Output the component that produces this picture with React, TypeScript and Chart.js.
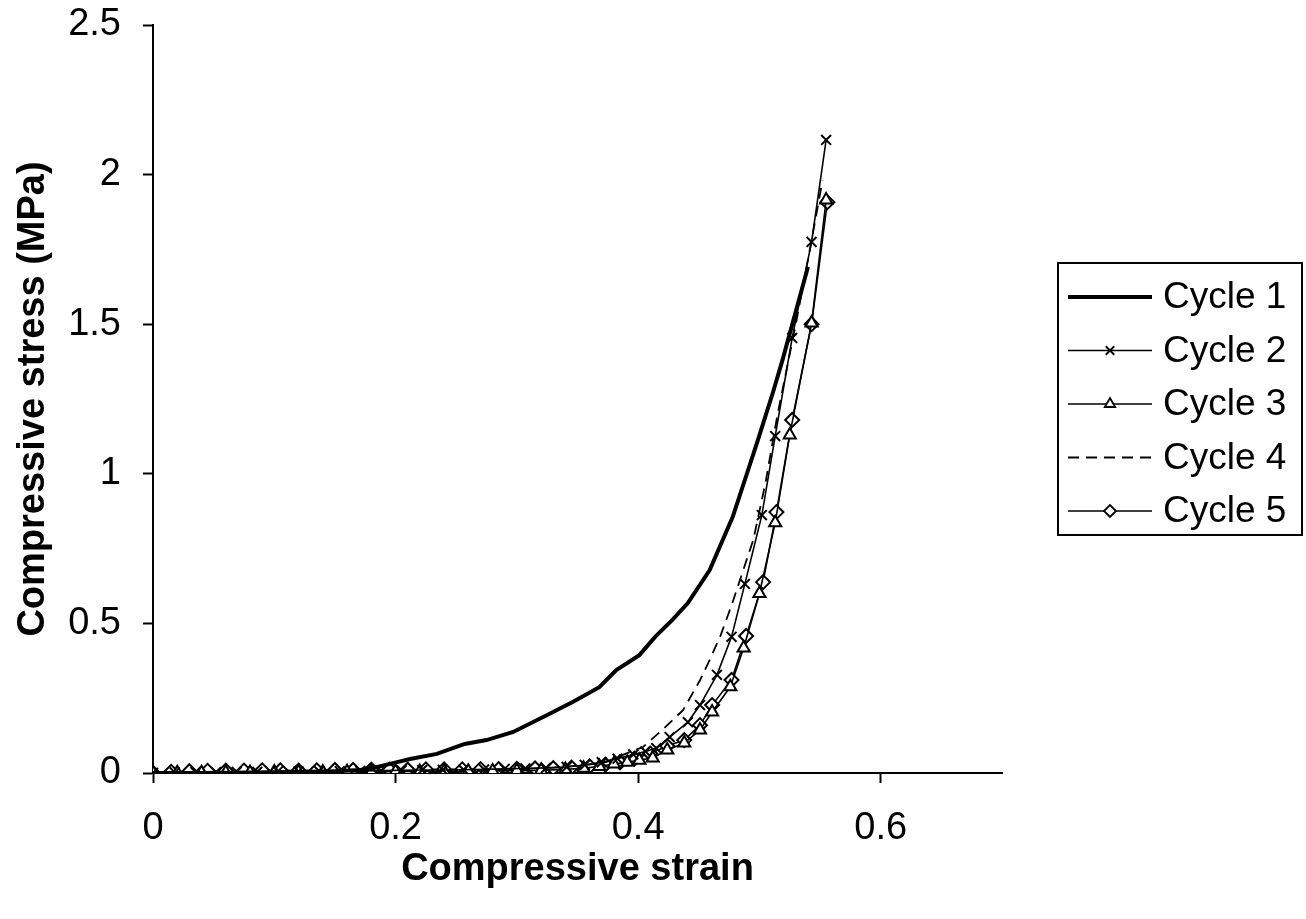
import React, { useEffect, useRef } from "react";
import { Chart, registerables } from "chart.js";
import { drawPoint } from "chart.js/helpers";

Chart.register(...registerables);

const X_TITLE = "Compressive strain";
const Y_TITLE = "Compressive stress (MPa)";
const X_TICKS = [0, 0.2, 0.4, 0.6];
const Y_TICKS = [0, 0.5, 1, 1.5, 2, 2.5];
const SERIES_NAMES = ["Cycle 1", "Cycle 2", "Cycle 3", "Cycle 4", "Cycle 5"];

const strain1 = [0, 0.039, 0.08, 0.121, 0.15, 0.171, 0.185, 0.198, 0.212, 0.234, 0.257, 0.275, 0.297, 0.325, 0.346, 0.368, 0.382, 0.401, 0.414, 0.428, 0.441, 0.459, 0.478, 0.498, 0.511, 0.519, 0.54];
const stress1 = [0, 0, 0.002, 0.003, 0.006, 0.01, 0.02, 0.033, 0.047, 0.064, 0.097, 0.11, 0.137, 0.194, 0.237, 0.287, 0.344, 0.394, 0.455, 0.511, 0.568, 0.678, 0.856, 1.103, 1.27, 1.38, 1.691];

const strain2 = [0, 0.018, 0.035, 0.052, 0.069, 0.086, 0.103, 0.12, 0.137, 0.154, 0.171, 0.188, 0.205, 0.222, 0.239, 0.256, 0.273, 0.29, 0.307, 0.324, 0.341, 0.356, 0.37, 0.383, 0.396, 0.406, 0.415, 0.426, 0.441, 0.451, 0.465, 0.477, 0.488, 0.502, 0.513, 0.527, 0.543, 0.555];
const stress2 = [0, 0.002, 0.003, 0.003, 0.004, 0.004, 0.005, 0.005, 0.006, 0.006, 0.007, 0.008, 0.009, 0.01, 0.01, 0.011, 0.012, 0.014, 0.015, 0.017, 0.02, 0.027, 0.036, 0.048, 0.062, 0.072, 0.083, 0.12, 0.17, 0.227, 0.328, 0.455, 0.632, 0.862, 1.126, 1.454, 1.775, 2.116];

const strain3 = [0, 0.02, 0.04, 0.06, 0.08, 0.1, 0.12, 0.14, 0.16, 0.18, 0.2, 0.22, 0.24, 0.26, 0.28, 0.3, 0.32, 0.34, 0.355, 0.368, 0.38, 0.391, 0.401, 0.412, 0.424, 0.438, 0.451, 0.461, 0.476, 0.487, 0.5, 0.513, 0.525, 0.543, 0.555];
const stress3 = [0, 0.001, 0.001, 0.002, 0.002, 0.003, 0.003, 0.003, 0.004, 0.004, 0.005, 0.005, 0.006, 0.006, 0.007, 0.008, 0.009, 0.012, 0.016, 0.022, 0.03, 0.036, 0.043, 0.05, 0.077, 0.1, 0.144, 0.204, 0.288, 0.418, 0.6, 0.836, 1.13, 1.504, 1.915];

const strain4 = [0, 0.05, 0.1, 0.15, 0.2, 0.25, 0.3, 0.33, 0.355, 0.374, 0.387, 0.404, 0.42, 0.437, 0.451, 0.459, 0.468, 0.477, 0.486, 0.495, 0.505, 0.515, 0.53, 0.543, 0.552];
const stress4 = [0, 0.002, 0.004, 0.005, 0.006, 0.008, 0.012, 0.018, 0.026, 0.037, 0.06, 0.087, 0.144, 0.21, 0.31, 0.378, 0.46, 0.56, 0.67, 0.78, 0.97, 1.2, 1.5, 1.78, 1.98];

const strain5 = [0, 0.015, 0.03, 0.045, 0.06, 0.075, 0.09, 0.105, 0.12, 0.135, 0.15, 0.165, 0.18, 0.195, 0.21, 0.225, 0.24, 0.255, 0.27, 0.285, 0.3, 0.315, 0.33, 0.345, 0.36, 0.373, 0.385, 0.397, 0.41, 0.424, 0.438, 0.451, 0.461, 0.477, 0.489, 0.503, 0.514, 0.527, 0.543, 0.556];
const stress5 = [0, 0.004, 0.006, 0.007, 0.008, 0.008, 0.009, 0.009, 0.008, 0.009, 0.01, 0.01, 0.011, 0.011, 0.011, 0.012, 0.012, 0.012, 0.013, 0.013, 0.014, 0.015, 0.016, 0.018, 0.022, 0.028, 0.036, 0.048, 0.065, 0.09, 0.11, 0.16, 0.227, 0.311, 0.458, 0.638, 0.872, 1.18, 1.5, 1.908];

const zip = (xs: number[], ys: number[]) => xs.map((x, i) => ({ x, y: ys[i] }));

const FONT = '"Liberation Sans", Arial, sans-serif';

type Style = { lineWidth: number; dash: number[]; pointStyle: any; radius: number };
const STYLES: Style[] = [
  { lineWidth: 4, dash: [], pointStyle: false, radius: 0 },
  { lineWidth: 1.6, dash: [], pointStyle: "crossRot", radius: 7 },
  { lineWidth: 1.6, dash: [], pointStyle: "triangle", radius: 7 },
  { lineWidth: 1.8, dash: [11, 7], pointStyle: false, radius: 0 },
  { lineWidth: 1.6, dash: [], pointStyle: "rectRot", radius: 7 },
];

const overlayPlugin = {
  id: "overlay",
  afterDraw(chart: any) {
    const ctx = chart.ctx as CanvasRenderingContext2D;
    const { left, right, top, bottom } = chart.chartArea;
    ctx.save();
    ctx.fillStyle = "#000";
    ctx.textAlign = "center";
    ctx.textBaseline = "middle";
    ctx.font = `bold 38px ${FONT}`;
    ctx.fillText(X_TITLE, (left + right) / 2, 870);
    ctx.save();
    ctx.translate(34, (top + bottom) / 2);
    ctx.rotate(-Math.PI / 2);
    ctx.fillText(Y_TITLE, 0, 0);
    ctx.restore();

    // legend
    const bx = 1058, by = 263, bw = 244, bh = 272;
    ctx.lineWidth = 2;
    ctx.strokeStyle = "#000";
    ctx.setLineDash([]);
    ctx.strokeRect(bx, by, bw, bh);
    ctx.font = `37px ${FONT}`;
    ctx.textAlign = "left";
    SERIES_NAMES.forEach((name, i) => {
      const y = by + 34 + i * 53.5;
      const st = STYLES[i];
      ctx.beginPath();
      ctx.lineWidth = st.lineWidth;
      ctx.setLineDash(st.dash);
      ctx.moveTo(bx + 10, y);
      ctx.lineTo(bx + 94, y);
      ctx.stroke();
      ctx.setLineDash([]);
      if (st.pointStyle) {
        ctx.fillStyle = "#fff";
        ctx.strokeStyle = "#000";
        ctx.lineWidth = 1.8;
        drawPoint(ctx, { pointStyle: st.pointStyle, radius: st.radius - 1, rotation: 0, borderWidth: 1.8 } as any, bx + 52, y);
      }
      ctx.fillStyle = "#000";
      ctx.fillText(name, bx + 105, y + 1);
    });
    ctx.restore();
  },
};

export default function App() {
  const ref = useRef<HTMLCanvasElement | null>(null);
  useEffect(() => {
    if (!ref.current) return;
    const series = [
      zip(strain1, stress1),
      zip(strain2, stress2),
      zip(strain3, stress3),
      zip(strain4, stress4),
      zip(strain5, stress5),
    ];
    const chart = new Chart(ref.current, {
      type: "line",
      data: {
        datasets: series.map((d, i) => ({
          label: SERIES_NAMES[i],
          data: d,
          borderColor: "#000",
          backgroundColor: "#fff",
          borderWidth: STYLES[i].lineWidth,
          borderDash: STYLES[i].dash,
          pointStyle: STYLES[i].pointStyle,
          pointRadius: STYLES[i].radius,
          pointBorderWidth: 2,
          pointBorderColor: "#000",
          pointBackgroundColor: "#fff",
          tension: 0,
          fill: false,
        })),
      },
      options: {
        responsive: false,
        animation: false,
        layout: { padding: { left: 0, top: 25, right: 304, bottom: 0 } },
        plugins: { legend: { display: false }, tooltip: { enabled: false } },
        scales: {
          x: {
            type: "linear",
            min: 0,
            max: 0.7,
            afterBuildTicks: (s: any) => { s.ticks = X_TICKS.map((v) => ({ value: v })); },
            afterFit: (s: any) => { s.height = 146; s.paddingLeft = 0; s.paddingRight = 0; },
            grid: { drawOnChartArea: false, drawTicks: true, tickLength: 10, tickWidth: 2, tickColor: "#000" },
            border: { display: true, color: "#000", width: 2 },
            ticks: {
              color: "#000",
              font: { family: FONT, size: 38 },
              padding: 23,
              maxRotation: 0,
              callback: (v: any) => String(Number(Number(v).toFixed(2))),
            },
          },
          y: {
            type: "linear",
            min: 0,
            max: 2.5,
            afterBuildTicks: (s: any) => { s.ticks = Y_TICKS.map((v) => ({ value: v })); },
            afterFit: (s: any) => { s.width = 153; s.paddingTop = 0; s.paddingBottom = 0; },
            grid: { drawOnChartArea: false, drawTicks: true, tickLength: 10, tickWidth: 2, tickColor: "#000" },
            border: { display: true, color: "#000", width: 2 },
            ticks: {
              color: "#000",
              font: { family: FONT, size: 38 },
              padding: 22,
              callback: (v: any) => String(Number(Number(v).toFixed(2))),
            },
          },
        },
      },
      plugins: [overlayPlugin],
    } as any);
    return () => chart.destroy();
  }, []);
  return (
    <div style={{ position: "fixed", left: 0, top: 0, width: 1306, height: 919, background: "#fff" }}>
      <canvas ref={ref} width={1306} height={919} style={{ display: "block" }} />
    </div>
  );
}
